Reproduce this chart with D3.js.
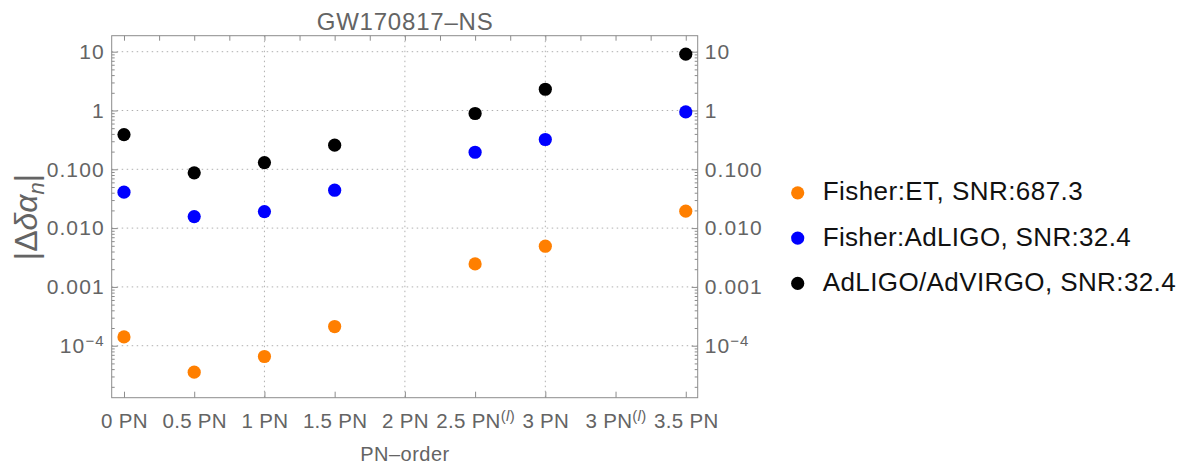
<!DOCTYPE html>
<html>
<head>
<meta charset="utf-8">
<script src="https://cdn.jsdelivr.net/npm/d3@7"></script>
<style>
  html, body { margin: 0; padding: 0; background: #fff; }
  svg { display: block; }
  svg text { font-family: "Liberation Sans", Arimo, Arial, sans-serif; }
</style>
</head>
<body>
<svg id="chart" width="1182" height="464"></svg>
<script>
// PN orders on the x axis; "^" marks a superscript suffix
const pnOrders = ["0 PN", "0.5 PN", "1 PN", "1.5 PN", "2 PN", "2.5 PN^(l)", "3 PN", "3 PN^(l)", "3.5 PN"];

// |Δδα_n| bounds per PN order (null = not estimated)
const fisherET = [1.41e-4, 3.55e-5, 6.55e-5, 2.12e-4, null, 2.46e-3, 4.92e-3, null, 0.0194];
const fisherAdLIGO = [0.0408, 0.0157, 0.0191, 0.0441, null, 0.195, 0.321, null, 0.946];
const adLigoVirgo = [0.39, 0.087, 0.13, 0.257, null, 0.89, 2.3, null, 9.07];

const seriesNames = ["Fisher:ET, SNR:687.3", "Fisher:AdLIGO, SNR:32.4", "AdLIGO/AdVIRGO, SNR:32.4"];
const seriesColors = ["#ff7f00", "#0000ff", "#000000"];

const yMajorTicks = [1e1, 1e0, 1e-1, 1e-2, 1e-3, 1e-4];
const yTickLabels = ["10", "1", "0.100", "0.010", "0.001", "10^−4"];

const svg = d3.select("#chart");
const plot = { left: 111.7, right: 697.7, top: 35.7, bottom: 397.7 };
const axisGray = "#8c8c8c";
const textGray = "#646464";

const x = d3.scaleLinear().domain([-0.175, 8.17]).range([plot.left, plot.right]);
const y = d3.scaleLog().domain([Math.pow(10, -4.884), Math.pow(10, 1.272)]).range([plot.bottom, plot.top]);

// minor log ticks 2..9 per decade within the visible range
const yMinorTicks = [];
for (let e = -5; e <= 1; e++) {
  for (let m = 2; m <= 9; m++) {
    const v = m * Math.pow(10, e);
    if (v >= y.domain()[0] && v <= y.domain()[1]) yMinorTicks.push(v);
  }
}

// grid
const grid = svg.append("g").attr("stroke", "#b0b0b0").attr("stroke-width", 1)
  .attr("stroke-dasharray", "1.5,3.5").attr("fill", "none");
yMajorTicks.forEach(v => {
  grid.append("line").attr("x1", plot.left).attr("x2", plot.right)
    .attr("y1", y(v)).attr("y2", y(v));
});
[2, 4, 6].forEach(i => {
  grid.append("line").attr("x1", x(i)).attr("x2", x(i))
    .attr("y1", plot.top).attr("y2", plot.bottom);
});

function styleAxis(g, size, spacing) {
  g.selectAll("path").remove();
  g.selectAll("line").attr("stroke", axisGray);
  g.selectAll("text").attr("fill", textGray).attr("font-family", null)
    .style("font-size", size + "px").style("letter-spacing", spacing + "px");
}

// y axes (left and right), ticks point into the frame
const yLabelOf = v => yTickLabels[yMajorTicks.indexOf(v)];
[[d3.axisLeft, plot.left], [d3.axisRight, plot.right]].forEach(([fn, px]) => {
  const major = svg.append("g").attr("transform", `translate(${px},0)`)
    .call(fn(y).tickValues(yMajorTicks).tickSizeInner(-6).tickSizeOuter(0).tickPadding(7)
      .tickFormat(yLabelOf));
  styleAxis(major, 21, 1.1);
  major.selectAll("text").each(function(v) {
    const s = yLabelOf(v);
    if (s.includes("^")) {
      const [b, p] = s.split("^");
      const t = d3.select(this).text(null);
      t.append("tspan").text(b);
      t.append("tspan").attr("dy", "-0.45em").style("font-size", "15px").text(p);
    }
  });
  const minor = svg.append("g").attr("transform", `translate(${px},0)`)
    .call(fn(y).tickValues(yMinorTicks).tickSizeInner(-3).tickSizeOuter(0).tickFormat(""));
  styleAxis(minor, 21, 0);
});

// bottom axis with PN labels
const xBottom = svg.append("g").attr("transform", `translate(0,${plot.bottom})`)
  .call(d3.axisBottom(x).tickValues(d3.range(pnOrders.length)).tickSizeInner(-6).tickSizeOuter(0)
    .tickPadding(16).tickFormat(i => pnOrders[i]));
styleAxis(xBottom, 20.5, 0.3);
xBottom.selectAll("text").each(function(i) {
  const s = pnOrders[i];
  if (s.includes("^")) {
    const [b, p] = s.split("^");
    const t = d3.select(this).text(null);
    t.append("tspan").text(b);
    const sp = t.append("tspan").attr("dy", "-0.5em").style("font-size", "15px");
    sp.append("tspan").text("(");
    sp.append("tspan").style("font-style", "italic").text("l");
    sp.append("tspan").text(")");
  }
});

// top axis: unlabeled ticks every half step
const xTop = svg.append("g").attr("transform", `translate(0,${plot.top})`)
  .call(d3.axisTop(x).tickValues(d3.range(0, 8.01, 0.5)).tickSizeInner(-5).tickSizeOuter(0).tickFormat(""));
styleAxis(xTop, 20, 0);

// frame
svg.append("rect").attr("x", plot.left).attr("y", plot.top)
  .attr("width", plot.right - plot.left).attr("height", plot.bottom - plot.top)
  .attr("fill", "none").attr("stroke", axisGray).attr("stroke-width", 1);

// points
const allSeries = [fisherET, fisherAdLIGO, adLigoVirgo];
allSeries.forEach((vals, si) => {
  svg.append("g").selectAll("circle")
    .data(vals.map((v, i) => ({ i, v })).filter(d => d.v != null))
    .join("circle")
    .attr("cx", d => x(d.i)).attr("cy", d => y(d.v)).attr("r", 6.6)
    .attr("fill", seriesColors[si]);
});

// title
svg.append("text").attr("x", (plot.left + plot.right) / 2).attr("y", 30)
  .attr("text-anchor", "middle").style("font-size", "24px")
  .attr("textLength", 176).attr("lengthAdjust", "spacing")
  .attr("fill", textGray).text("GW170817–NS");

// x axis title
svg.append("text").attr("x", (plot.left + plot.right) / 2).attr("y", 461)
  .attr("text-anchor", "middle").style("font-size", "20px")
  .attr("textLength", 89).attr("lengthAdjust", "spacing")
  .attr("fill", textGray).text("PN–order");

// y axis title |Δδα_n|
const yt = svg.append("text").attr("transform", `translate(37,217) rotate(-90)`)
  .attr("text-anchor", "middle").style("font-size", "32px").attr("fill", textGray);
yt.append("tspan").text("|Δ");
yt.append("tspan").style("font-style", "italic").text("δα");
yt.append("tspan").style("font-style", "italic").style("font-size", "22px").attr("dy", "0.3em").text("n");
yt.append("tspan").attr("dy", "-0.21em").text("|");

// legend
const legendWidths = [260, 308, 353];
const legend = svg.append("g");
seriesNames.forEach((name, i) => {
  const cy = 192.8 + i * 45.3;
  legend.append("circle").attr("cx", 797.7).attr("cy", cy).attr("r", 6.6).attr("fill", seriesColors[i]);
  legend.append("text").attr("x", 822.7).attr("y", cy + 7.5).style("font-size", "26px")
    .attr("textLength", legendWidths[i]).attr("lengthAdjust", "spacing")
    .attr("fill", "#111").text(name);
});
</script>
</body>
</html>
